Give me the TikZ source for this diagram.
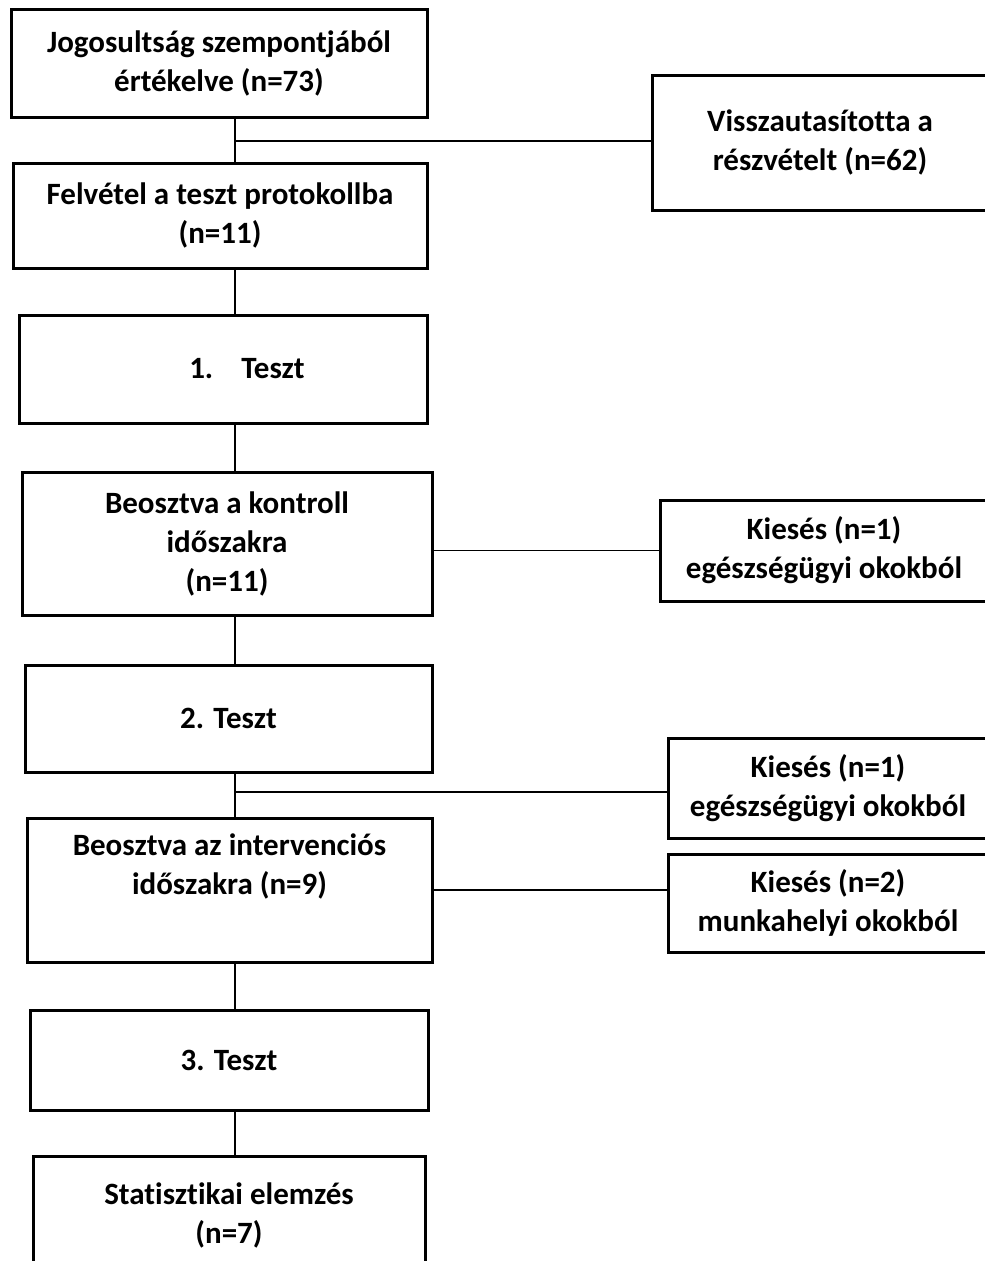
\documentclass[tikz,border=0pt]{standalone}
\usepackage{fontspec}
\setmainfont{Carlito}[Ligatures=NoCommon]
\usetikzlibrary{positioning}
\tikzset{
  flow/box/.style={
    draw=black,
    line width=3pt,
    fill=white,
    align=center,
    text=black,
    inner sep=0pt,
    font=\bfseries\fontsize{31}{39}\selectfont
  },
  flow/side/.style={flow/box},
  flow/link/.style={draw=black, line width=1.4pt}
}

\begin{document}
\begin{tikzpicture}[x=1pt,y=-1pt]
  \clip (0,0) rectangle (985,1261);
  \coordinate (spine) at (235,0);
  \node[flow/box,minimum width=416,minimum height=108] (elig) at (219,63) {Jogosultság szempontjából\\értékelve (n=73)};
  \node[flow/side,minimum width=336,minimum height=135] (refused) at (820,142.5) {Visszautasította a\\részvételt (n=62)};
  \node[flow/box,minimum width=414,minimum height=105] (enrol) at (220,215.5) {Felvétel a teszt protokollba\\(n=11)};
  \node[flow/box,minimum width=408,minimum height=108] (test1) at (223,369) {\hspace*{48pt}1.\hspace{28pt}Teszt};
  \node[flow/box,minimum width=410,minimum height=143] (control) at (227,543.5) {Beosztva a kontroll\\időszakra\\(n=11)};
  \node[flow/side,minimum width=328,minimum height=101] (drop1) at (824,550.5) {Kiesés (n=1)\\egészségügyi okokból};
  \node[flow/box,minimum width=407,minimum height=107] (test2) at (228.5,718.5) {2. Teszt};
  \node[flow/side,minimum width=320,minimum height=100] (drop2) at (828,788) {Kiesés (n=1)\\egészségügyi okokból};
  \node[flow/box,minimum width=405,minimum height=144] (interv) at (229.5,890) {Beosztva az intervenciós\\időszakra (n=9)\\[13pt]\mbox{}};
  \node[flow/side,minimum width=320,minimum height=98] (drop3) at (828,903) {Kiesés (n=2)\\munkahelyi okokból};
  \node[flow/box,minimum width=398,minimum height=100] (test3) at (229,1060) {3. Teszt};
  \node[flow/box,minimum width=392,minimum height=119] (stats) at (229,1215.5) {Statisztikai elemzés\\(n=7)};
  \coordinate (j1) at (235,141);
  \coordinate (j2) at (235,792);
  \draw[flow/link] (elig.south -| spine) -- (enrol.north -| spine);
  \draw[flow/link] (j1) -- (j1 -| refused.west);
  \draw[flow/link] (enrol.south -| spine) -- (test1.north -| spine);
  \draw[flow/link] (test1.south -| spine) -- (control.north -| spine);
  \draw[flow/link] (drop1.west -| control.east) -- (drop1.west);
  \draw[flow/link] (control.south -| spine) -- (test2.north -| spine);
  \draw[flow/link] (test2.south -| spine) -- (interv.north -| spine);
  \draw[flow/link] (j2) -- (j2 -| drop2.west);
  \draw[flow/link] (interv.east) -- (interv.east -| drop3.west);
  \draw[flow/link] (interv.south -| spine) -- (test3.north -| spine);
  \draw[flow/link] (test3.south -| spine) -- (stats.north -| spine);
\end{tikzpicture}
\end{document}
